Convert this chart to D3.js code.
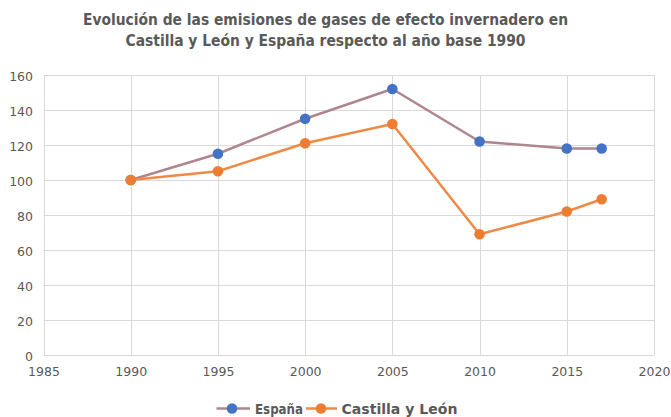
<!DOCTYPE html>
<html>
<head>
<meta charset="utf-8">
<script src="https://cdn.jsdelivr.net/npm/d3@7/dist/d3.min.js"></script>
<style>
  html, body { margin: 0; padding: 0; background: #fff; }
  svg { display: block; }
</style>
</head>
<body>
<svg id="chart" width="671" height="417"></svg>
<script>
const titleLines = ["Evolución de las emisiones de gases de efecto invernadero en", "Castilla y León y España respecto al año base 1990"];
const years = [1990, 1995, 2000, 2005, 2010, 2015, 2017];
const espana = [100, 115, 135, 152, 122, 118, 118];
const castilla = [100, 105, 121, 132, 69, 82, 89];
const seriesNames = ["España", "Castilla y León"];
const xTicks = [1985, 1990, 1995, 2000, 2005, 2010, 2015, 2020];
const yTicks = [0, 20, 40, 60, 80, 100, 120, 140, 160];

const svg = d3.select("#chart");
const m = { left: 43.5, right: 654, top: 75, bottom: 355 };
const x = d3.scaleLinear().domain([1985, 2020]).range([m.left, m.right]);
const y = d3.scaleLinear().domain([0, 160]).range([m.bottom, m.top]);
const txt = "#595959";
const grid = "#d9d9d9";
const font = "'DejaVu Sans', Verdana, sans-serif";

// title
const titleLens = [485, 400];
const titleY = [25, 45.5];
titleLines.forEach((t, i) => {
  svg.append("text").attr("x", 325.5).attr("y", titleY[i])
    .attr("text-anchor", "middle").attr("font-family", font)
    .attr("font-weight", "bold").attr("font-size", 15.5).attr("fill", txt)
    .attr("textLength", titleLens[i]).attr("lengthAdjust", "spacingAndGlyphs")
    .text(t);
});

// gridlines
const g = svg.append("g");
g.selectAll("line.h").data(yTicks).join("line")
  .attr("x1", m.left).attr("x2", m.right)
  .attr("y1", d => Math.round(y(d)) + 0.5).attr("y2", d => Math.round(y(d)) + 0.5)
  .attr("stroke", grid).attr("stroke-width", 1);
g.selectAll("line.v").data(xTicks).join("line")
  .attr("y1", m.top).attr("y2", m.bottom)
  .attr("x1", d => Math.round(x(d)) + 0.5).attr("x2", d => Math.round(x(d)) + 0.5)
  .attr("stroke", grid).attr("stroke-width", 1);

// axes labels via d3 axes
const yAxis = d3.axisLeft(y).tickValues(yTicks).tickSize(0).tickPadding(0);
const yg = svg.append("g").attr("transform", `translate(33,0)`).call(yAxis);
yg.select(".domain").remove();
yg.selectAll("text").attr("font-family", font).attr("font-size", 12.5).attr("fill", txt).attr("dy", "0.4em");

const xAxis = d3.axisBottom(x).tickValues(xTicks).tickSize(0).tickPadding(0).tickFormat(d3.format("d"));
const xg = svg.append("g").attr("transform", `translate(0,${m.bottom + 12})`).call(xAxis);
xg.select(".domain").remove();
xg.selectAll("text").attr("font-family", font).attr("font-size", 12.5).attr("fill", txt).attr("dy", "0.75em");

// series (España first, Castilla y León drawn on top)
const colors = { line: ["#b0868c", "#ee8a45"], marker: ["#4472c4", "#ed7d31"] };
const data = [espana, castilla];
const line = d3.line().x((d, i) => x(years[i])).y(d => y(d));

[0, 1].forEach(si => {
  svg.append("path").datum(data[si]).attr("d", line)
    .attr("fill", "none").attr("stroke", colors.line[si]).attr("stroke-width", 2.5)
    .attr("stroke-linejoin", "round");
  svg.append("g").selectAll("circle").data(data[si]).join("circle")
    .attr("cx", (d, i) => x(years[i])).attr("cy", d => y(d)).attr("r", 5.3)
    .attr("fill", colors.marker[si]);
});

// legend
const legY = 408.5;
const leg = [
  { x1: 216.5, x2: 250, cx: 232, tx: 255, tl: 48 },
  { x1: 306, x2: 337, cx: 321, tx: 341.5, tl: 116 }
];
leg.forEach((L, i) => {
  svg.append("line").attr("x1", L.x1).attr("x2", L.x2).attr("y1", legY).attr("y2", legY)
    .attr("stroke", colors.line[i]).attr("stroke-width", 2.5);
  svg.append("circle").attr("cx", L.cx).attr("cy", legY).attr("r", 5.3).attr("fill", colors.marker[i]);
  svg.append("text").attr("x", L.tx).attr("y", legY + 5)
    .attr("font-family", font).attr("font-weight", "bold").attr("font-size", 13.5).attr("fill", txt)
    .attr("textLength", L.tl).attr("lengthAdjust", "spacingAndGlyphs")
    .text(seriesNames[i]);
});
</script>
</body>
</html>
